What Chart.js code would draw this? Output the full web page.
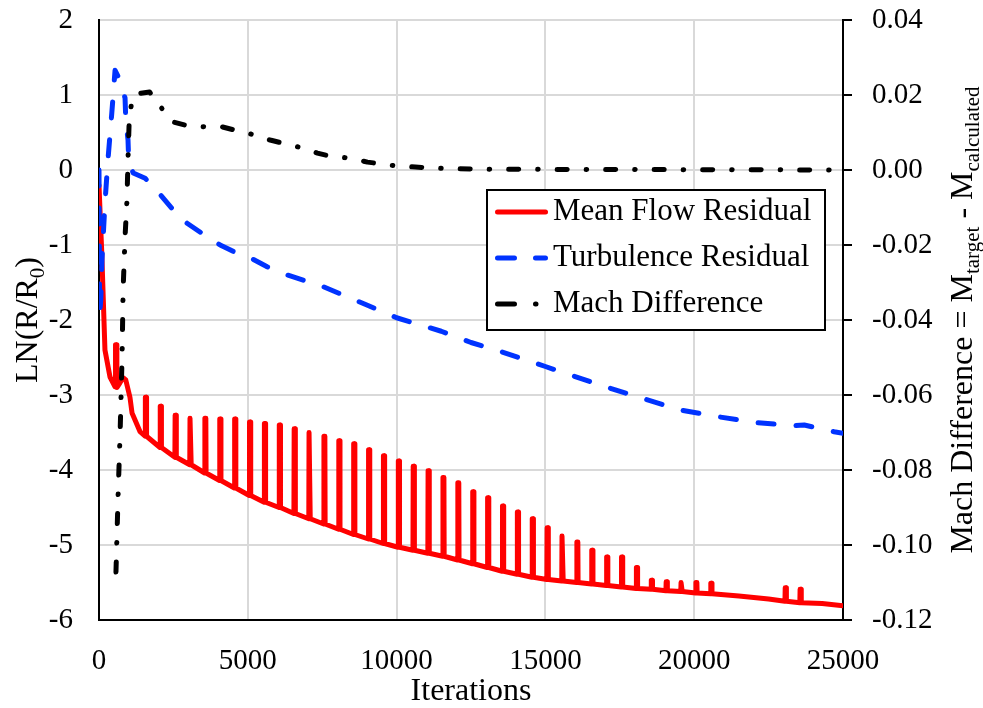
<!DOCTYPE html>
<html>
<head>
<meta charset="utf-8">
<title>Residuals and Mach difference</title>
<script src="https://cdn.jsdelivr.net/npm/chart.js@4.4.1/dist/chart.umd.min.js"></script>
<style>
  html, body { margin: 0; padding: 0; background: #ffffff; }
</style>
</head>
<body>
<canvas id="chart" width="983" height="708"></canvas>
<script>
// Mean flow residual - start-up part
const meanFlowIter = [0, 40, 90, 200, 370, 540, 555, 585, 600, 700, 810, 900, 1040, 1110, 1380];
const meanFlowRes = [-0.2, -0.6, -1.07, -2.4, -2.76, -2.89, -2.33, -2.33, -2.9, -2.84, -2.77, -2.8, -3.03, -3.24, -3.49];

// periodic restarts: iteration, residual just before, residual at the top
const spikeIter = [1550, 2050, 2550, 3050, 3550, 4050, 4550, 5050, 5550, 6050,
  6550, 7050, 7550, 8050, 8550, 9050, 9550, 10050, 10550, 11050,
  11550, 12050, 12550, 13050, 13550, 14050, 14550, 15050, 15550, 16050,
  16550, 17050, 17550, 18050, 18550, 19050, 19550, 20050, 20550, 23050, 23550];
const spikeBase = [-3.55, -3.7, -3.83, -3.93, -4.04, -4.14, -4.24, -4.34, -4.43, -4.5,
  -4.58, -4.65, -4.72, -4.79, -4.86, -4.92, -4.98, -5.03, -5.07, -5.11,
  -5.15, -5.2, -5.25, -5.3, -5.35, -5.39, -5.43, -5.46, -5.48, -5.5,
  -5.52, -5.54, -5.56, -5.58, -5.59, -5.61, -5.62, -5.64, -5.65, -5.75, -5.77];
const spikeTop = [-3.03, -3.15, -3.27, -3.31, -3.31, -3.32, -3.32, -3.36, -3.38, -3.4,
  -3.45, -3.5, -3.55, -3.61, -3.65, -3.73, -3.81, -3.88, -3.95, -4.01,
  -4.1, -4.17, -4.29, -4.37, -4.48, -4.56, -4.65, -4.77, -4.88, -4.96,
  -5.07, -5.16, -5.16, -5.3, -5.47, -5.49, -5.5, -5.5, -5.51, -5.57, -5.59];

// Mean flow residual - quiet stretches at the end
const meanFlowTailIter = [21500, 22500, 24300, 25000];
const meanFlowTailRes = [-5.68, -5.72, -5.78, -5.81];

// Turbulence residual
const turbIter = [0, 20, 60, 100, 200, 300, 430, 540, 700, 875, 900, 975, 1000, 1150, 1550, 1980,
  2490, 2960, 3630, 4070, 4640, 5080, 5650, 6090, 7500, 9000, 10000, 11500, 12500, 13500,
  15000, 16860, 18300, 19550, 20800, 22140, 23350, 23700, 24700, 25000];
const turbRes = [0, -1.93, -1.73, -1.2, -0.44, 0.13, 0.76, 1.33, 1.2, 0.96, 0.67, 0.4, 0.1, -0.04, -0.11, -0.29,
  -0.53, -0.71, -0.89, -1.0, -1.11, -1.17, -1.29, -1.37, -1.55, -1.8, -1.97, -2.15, -2.3, -2.42,
  -2.62, -2.87, -3.05, -3.2, -3.29, -3.37, -3.41, -3.4, -3.49, -3.51];

// Mach difference (right axis)
const machIter = [570, 640, 710, 775, 810, 875, 940, 975, 1010, 1100, 1200, 1700, 2000, 2490, 3030,
  3630, 4140, 4680, 5250, 5750, 6290, 6830, 7340, 7870, 8450, 9020, 9520, 10060, 10630, 11170, 13000, 25000];
const machDiff = [-0.1072, -0.0872, -0.0699, -0.0499, -0.032, -0.0179, -0.008, 0.003, 0.012, 0.0185, 0.0202, 0.0208, 0.0175, 0.0128, 0.0117,
  0.0115, 0.0115, 0.0104, 0.0093, 0.008, 0.0069, 0.0059, 0.0045, 0.0035, 0.0032, 0.0021, 0.0016, 0.001, 0.0008, 0.0005, 0.0002, 0.0];

const leftTicks = [-6, -5, -4, -3, -2, -1, 0, 1, 2];
const rightTicks = [-0.12, -0.10, -0.08, -0.06, -0.04, -0.02, 0.00, 0.02, 0.04];
const xTicks = [0, 5000, 10000, 15000, 20000, 25000];

const leftTitle = [{ text: 'LN(R/R' }, { text: '0', sub: true }, { text: ')' }];
const rightTitle = [{ text: 'Mach Difference = M' }, { text: 'target', sub: true },
  { text: ' - M' }, { text: 'calculated', sub: true }];

const FONT = "'Liberation Serif', 'Times New Roman', serif";
const RED = '#ff0000';
const BLUE = '#0033ff';
const BLACK = '#000000';
const GRID = '#d9d9d9';

// build the red series: start-up, then each restart spike, then the tail
function meanFlowPoints() {
  const pts = meanFlowIter.map((x, i) => ({ x, y: meanFlowRes[i] }));
  spikeIter.forEach((s, i) => {
    pts.push({ x: s, y: spikeBase[i] });
    pts.push({ x: s + 8, y: spikeTop[i] });
    pts.push({ x: s + 40, y: spikeTop[i] });
    pts.push({ x: s + 48, y: spikeBase[i] });
  });
  meanFlowTailIter.forEach((x, i) => pts.push({ x, y: meanFlowTailRes[i] }));
  return pts.sort((a, b) => a.x - b.x);
}

const legendItems = [
  { label: 'Mean Flow Residual', color: RED, dash: [] },
  { label: 'Turbulence Residual', color: BLUE, dash: [17, 21] },
  { label: 'Mach Difference', color: BLACK, dash: [17, 21, 0.5, 100] }
];

// draws a rotated axis title with subscripts
function drawRotatedTitle(ctx, parts, baseX, centerY, size) {
  const subSize = Math.round(size * 0.65);
  ctx.save();
  ctx.translate(baseX, centerY);
  ctx.rotate(-Math.PI / 2);
  ctx.fillStyle = BLACK;
  ctx.textAlign = 'left';
  ctx.textBaseline = 'alphabetic';
  let total = 0;
  const widths = parts.map(p => {
    ctx.font = (p.sub ? subSize : size) + 'px ' + FONT;
    const w = ctx.measureText(p.text).width;
    total += w;
    return w;
  });
  let x = -total / 2;
  parts.forEach((p, i) => {
    ctx.font = (p.sub ? subSize : size) + 'px ' + FONT;
    ctx.fillText(p.text, x, p.sub ? size * 0.22 : 0);
    x += widths[i];
  });
  ctx.restore();
}

const extrasPlugin = {
  id: 'extras',
  afterDraw(chart) {
    const ctx = chart.ctx;
    drawRotatedTitle(ctx, leftTitle, 37, 320, 32);
    drawRotatedTitle(ctx, rightTitle, 972, 320, 32);

    // legend box
    const bx = 487, by = 190, bw = 338, bh = 140;
    ctx.save();
    ctx.fillStyle = '#ffffff';
    ctx.fillRect(bx, by, bw, bh);
    ctx.strokeStyle = BLACK;
    ctx.lineWidth = 2;
    ctx.strokeRect(bx, by, bw, bh);
    const rows = [212, 258, 304];
    legendItems.forEach((item, i) => {
      const y = rows[i];
      ctx.beginPath();
      ctx.setLineDash(item.dash);
      ctx.lineCap = 'round';
      ctx.strokeStyle = item.color;
      ctx.lineWidth = 5;
      ctx.moveTo(497.5, y);
      ctx.lineTo(545.5, y);
      ctx.stroke();
      ctx.setLineDash([]);
      ctx.fillStyle = BLACK;
      ctx.font = '31px ' + FONT;
      ctx.textAlign = 'left';
      ctx.textBaseline = 'middle';
      ctx.fillText(item.label, 553, y);
    });
    ctx.restore();
  }
};

// vertical axes: fixed widths, no extra room for half labels
function fixVertical(width) {
  return s => {
    s.width = width;
    s.paddingTop = 0;
    s.paddingBottom = 0;
  };
}

new Chart(document.getElementById('chart'), {
  type: 'line',
  data: {
    datasets: [
      {
        label: 'Mach Difference',
        data: machIter.map((x, i) => ({ x, y: machDiff[i] })),
        yAxisID: 'y2',
        borderColor: BLACK,
        borderWidth: 5,
        borderDash: [10, 19, 0.5, 19],
        borderCapStyle: 'round',
        borderJoinStyle: 'round',
        order: 0
      },
      {
        label: 'Turbulence Residual',
        data: turbIter.map((x, i) => ({ x, y: turbRes[i] })),
        yAxisID: 'y',
        borderColor: BLUE,
        borderWidth: 5,
        borderDash: [16, 22],
        borderCapStyle: 'round',
        borderJoinStyle: 'round',
        order: 1
      },
      {
        label: 'Mean Flow Residual',
        data: meanFlowPoints(),
        yAxisID: 'y',
        borderColor: RED,
        borderWidth: 5,
        borderCapStyle: 'round',
        borderJoinStyle: 'round',
        order: 2
      }
    ]
  },
  options: {
    responsive: false,
    animation: false,
    events: [],
    parsing: false,
    elements: { point: { radius: 0 }, line: { tension: 0, fill: false } },
    layout: { padding: { top: 20, left: 0, right: 0, bottom: 0 } },
    plugins: {
      legend: { display: false },
      tooltip: { enabled: false }
    },
    scales: {
      x: {
        type: 'linear',
        min: 0,
        max: 25000,
        afterBuildTicks: s => { s.ticks = xTicks.map(v => ({ value: v })); },
        afterFit: s => { s.height = 88; },
        ticks: {
          color: BLACK,
          padding: 24,
          maxRotation: 0,
          font: { family: FONT, size: 29 },
          callback: v => String(v)
        },
        grid: { color: GRID, lineWidth: 2, drawTicks: false },
        border: { display: true, color: BLACK, width: 2 },
        title: {
          display: true,
          text: 'Iterations',
          color: BLACK,
          font: { family: FONT, size: 32, lineHeight: 1 },
          padding: { top: 0, bottom: 0 }
        }
      },
      y: {
        position: 'left',
        min: -6,
        max: 2,
        afterBuildTicks: s => { s.ticks = leftTicks.map(v => ({ value: v })); },
        afterFit: fixVertical(99),
        ticks: {
          color: BLACK,
          padding: 26,
          font: { family: FONT, size: 29 },
          callback: v => String(v)
        },
        grid: { color: GRID, lineWidth: 2, drawTicks: false },
        border: { display: true, color: BLACK, width: 2 }
      },
      y2: {
        position: 'right',
        min: -0.12,
        max: 0.04,
        afterBuildTicks: s => { s.ticks = rightTicks.map(v => ({ value: v })); },
        afterFit: fixVertical(140),
        ticks: {
          color: BLACK,
          padding: 20,
          font: { family: FONT, size: 29 },
          callback: v => v.toFixed(2)
        },
        grid: { drawOnChartArea: false, drawTicks: true, tickLength: 9, color: BLACK, lineWidth: 2 },
        border: { display: true, color: BLACK, width: 2 }
      }
    }
  },
  plugins: [extrasPlugin]
});
</script>
</body>
</html>
